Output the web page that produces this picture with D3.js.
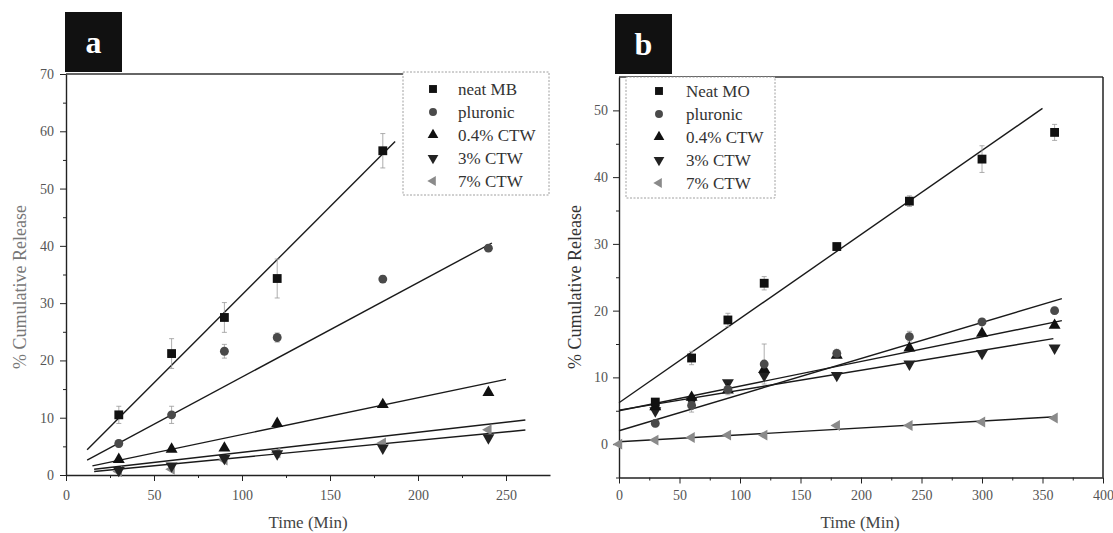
<!DOCTYPE html>
<html lang="en">
<head>
<meta charset="UTF-8">
<title>cumulative release</title>
<script src="https://cdn.jsdelivr.net/npm/d3@7"></script>
<style>
    body{ margin:0; background:#fff; }
    svg text{ font-family:"Liberation Serif","Times New Roman",serif !important; }
    .tick text{ fill:#555; font-size:14px; }
    .domain, .tick line{ stroke:#222; }
</style>
</head>
<body>
<svg id="chart" width="1113" height="533"></svg>
<script>
// ---- data ----
// panel a
let timesA = [30, 60, 90, 120, 180, 240]
let neatA   = [10.5, 21.2, 27.5, 34.3, 56.6, null]
let pluA    = [5.5, 10.5, 21.6, 24.0, 34.2, 39.6]
let ctw04A  = [2.7, 4.5, 4.7, 9.0, 12.3, 14.4]
let ctw3A   = [0.8, 1.6, 2.9, 3.7, 4.7, 6.5]
let ctw7A   = [0.6, 1.0, 2.6, 3.9, 5.6, 7.9]
let errNeatA = [1.5, 2.6, 2.6, 3.4, 3.0, 0]
let errPluA  = [0.6, 1.5, 1.2, 0.8, 0.6, 0.6]
// fit lines [x0, y0, x1, y1]
let fitsA = [[12, 4.4, 187, 58.2], [12, 2.6, 242, 40.5], [15, 1.6, 250, 16.7],
             [16, 0.6, 261, 7.85], [16, 1.0, 261, 9.6]]
let legendA = ["neat MB", "pluronic", "0.4% CTW", "3% CTW", "7% CTW"]
let xTicksA = [0, 50, 100, 150, 200, 250]
let yTicksA = [0, 10, 20, 30, 40, 50, 60, 70]

// panel b
let timesB = [0, 30, 60, 90, 120, 180, 240, 300, 360]
let neatB   = [null, 6.3, 12.9, 18.6, 24.1, 29.6, 36.4, 42.7, 46.7]
let pluB    = [null, 3.1, 5.8, 8.2, 12.0, 13.6, 16.1, 18.3, 20.0]
let ctw04B  = [null, 5.6, 7.0, 8.1, 11.2, 13.3, 14.4, 16.6, 17.8]
let ctw3B   = [null, 5.0, 6.5, 9.2, 10.3, 10.3, 12.0, 13.6, 14.4]
let ctw7B   = [0.0, 0.6, 1.0, 1.35, 1.35, 2.8, 2.8, 3.3, 3.9]
let errNeatB = [0, 0.5, 1.0, 1.0, 1.0, 0.5, 0.8, 2.0, 1.2]
let errPluB  = [0, 0.5, 1.0, 0.8, 3.0, 0.6, 0.8, 0.5, 0.5]
let fitsB = [[0, 6.2, 350, 50.3], [0, 2.0, 366, 21.8], [0, 5.0, 366, 18.5],
             [0, 5.1, 359, 15.8], [0, 0.35, 361, 4.1]]
let legendB = ["Neat MO", "pluronic", "0.4% CTW", "3% CTW", "7% CTW"]
let xTicksB = [0, 50, 100, 150, 200, 250, 300, 350, 400]
let yTicksB = [0, 10, 20, 30, 40, 50]

// ---- marker styles ----
let symbols = [d3.symbolSquare, d3.symbolCircle, d3.symbolTriangle, d3.symbolTriangle, d3.symbolTriangle]
let rotations = [0, 0, 0, 180, -90]
let sizes = [78, 62, 62, 62, 52]
let fills = ["#111", "#4a4a4a", "#111", "#222", "#8a8a8a"]

let svg = d3.select("#chart")

function drawPanel(p){
    let g = svg.append("g")
    let x = d3.scaleLinear().domain(p.xDomain).range(p.xRange)
    let y = d3.scaleLinear().domain(p.yDomain).range(p.yRange)
    let y0 = p.yRange[0], y1 = p.yRange[1]

    // frame lines
    g.append("line").attr("x1", p.xRange[0]).attr("x2", p.topEnd)
        .attr("y1", y1).attr("y2", y1).attr("stroke", "#333").attr("stroke-width", 1.3)
    if (p.rightLine){
        g.append("line").attr("x1", p.xRange[1]).attr("x2", p.xRange[1])
            .attr("y1", y1).attr("y2", y0).attr("stroke", "#222").attr("stroke-width", 1.5)
    }

    // axes
    g.append("g").attr("transform", `translate(0,${y0})`)
        .call(d3.axisBottom(x).tickValues(p.xTicks).tickSize(6).tickSizeOuter(0).tickPadding(p.xPad))
        .call(a => a.select(".domain").attr("stroke-width", 1.4))
    g.append("g").attr("transform", `translate(0,${y0})`)
        .call(d3.axisBottom(x).tickValues(p.xTicks.slice(0, -1).map(v => v + p.xMinor)).tickSize(3).tickFormat(""))
        .call(a => a.select(".domain").remove())
    g.append("g").attr("transform", `translate(${p.xRange[0]},0)`)
        .call(d3.axisLeft(y).tickValues(p.yTicks).tickSize(6).tickSizeOuter(0).tickPadding(p.yPad))
        .call(a => a.select(".domain").attr("stroke-width", 1.4))
    g.append("g").attr("transform", `translate(${p.xRange[0]},0)`)
        .call(d3.axisLeft(y).tickValues(p.yMinor).tickSize(3).tickFormat(""))
        .call(a => a.select(".domain").remove())

    // fit lines
    g.selectAll(".fit").data(p.fits).enter().append("line")
        .attr("x1", d => x(d[0])).attr("y1", d => y(d[1]))
        .attr("x2", d => x(d[2])).attr("y2", d => y(d[3]))
        .attr("stroke", "#1a1a1a").attr("stroke-width", 1.4)

    // error bars
    p.errs.forEach(function(e){
        let pts = p.times.map((t, i) => ({t: t, v: e.values[i], err: e.err[i]}))
            .filter(d => d.v !== null && d.err > 0)
        let eb = g.append("g").attr("stroke", "#999").attr("stroke-width", 0.8)
        eb.selectAll("line.v").data(pts).enter().append("line")
            .attr("x1", d => x(d.t)).attr("x2", d => x(d.t))
            .attr("y1", d => y(d.v - d.err)).attr("y2", d => y(d.v + d.err))
        eb.selectAll("line.c1").data(pts).enter().append("line")
            .attr("x1", d => x(d.t) - 2.5).attr("x2", d => x(d.t) + 2.5)
            .attr("y1", d => y(d.v + d.err)).attr("y2", d => y(d.v + d.err))
        eb.selectAll("line.c2").data(pts).enter().append("line")
            .attr("x1", d => x(d.t) - 2.5).attr("x2", d => x(d.t) + 2.5)
            .attr("y1", d => y(d.v - d.err)).attr("y2", d => y(d.v - d.err))
    })

    // markers (draw 7% first so the dark ones sit on top)
    d3.range(p.series.length).reverse().forEach(function(k){
        let pts = p.times.map((t, i) => ({t: t, v: p.series[k][i]})).filter(d => d.v !== null)
        g.selectAll(null).data(pts).enter().append("path")
            .attr("d", d3.symbol().type(symbols[k]).size(sizes[k]))
            .attr("transform", d => `translate(${x(d.t)},${y(d.v)}) rotate(${rotations[k]})`)
            .attr("fill", fills[k])
    })

    // legend
    let lg = g.append("g")
    lg.append("rect").attr("x", p.legendBox[0]).attr("y", p.legendBox[1])
        .attr("width", p.legendBox[2]).attr("height", p.legendBox[3])
        .attr("fill", "#fff").attr("stroke", "#888").attr("stroke-width", 0.8)
        .attr("stroke-dasharray", "2,1.5")
    p.legend.forEach(function(name, k){
        let cy = p.legendY + k * 23
        lg.append("path")
            .attr("d", d3.symbol().type(symbols[k]).size(sizes[k] * 0.8))
            .attr("transform", `translate(${p.legendSymX},${cy}) rotate(${rotations[k]})`)
            .attr("fill", fills[k])
        lg.append("text").attr("x", p.legendTextX).attr("y", cy + 5.5)
            .attr("font-size", 17).attr("fill", "#333").text(name)
    })

    // axis titles
    g.append("text").attr("x", p.xTitleX).attr("y", 528).attr("text-anchor", "middle")
        .attr("font-size", 17).attr("fill", "#444").text("Time (Min)")
    g.append("text").attr("transform", `translate(${p.yTitleX},287) rotate(-90)`)
        .attr("text-anchor", "middle").attr("font-size", 18).attr("fill", p.yTitleColor)
        .text("% Cumulative Release")

    // panel letter
    g.append("rect").attr("x", p.letterBox[0]).attr("y", p.letterBox[1])
        .attr("width", 57).attr("height", 60).attr("fill", "#111")
    g.append("text").attr("x", p.letterBox[0] + 28.5).attr("y", p.letterBox[1] + 41)
        .attr("text-anchor", "middle").attr("font-size", 32).attr("font-weight", "bold")
        .attr("fill", "#fff").text(p.letter)
}

drawPanel({
    xDomain: [0, 275], xRange: [66, 550], yDomain: [0, 70], yRange: [475, 74],
    topEnd: 403, rightLine: false,
    xTicks: xTicksA, xMinor: 25, xPad: 9,
    yTicks: yTicksA, yMinor: [5, 15, 25, 35, 45, 55, 65], yPad: 6,
    times: timesA, series: [neatA, pluA, ctw04A, ctw3A, ctw7A], fits: fitsA,
    errs: [{values: neatA, err: errNeatA}, {values: pluA, err: errPluA}],
    legend: legendA, legendBox: [403, 72, 146, 123], legendY: 89, legendSymX: 433, legendTextX: 458,
    xTitleX: 308, yTitleX: 26, yTitleColor: "#777",
    letterBox: [65, 12], letter: "a"
})

drawPanel({
    xDomain: [0, 400], xRange: [619, 1103], yDomain: [-5, 55], yRange: [477.5, 77],
    topEnd: 1103, rightLine: true,
    xTicks: xTicksB, xMinor: 25, xPad: 7,
    yTicks: yTicksB, yMinor: [-5, 5, 15, 25, 35, 45], yPad: 5,
    times: timesB, series: [neatB, pluB, ctw04B, ctw3B, ctw7B], fits: fitsB,
    errs: [{values: neatB, err: errNeatB}, {values: pluB, err: errPluB}],
    legend: legendB, legendBox: [626, 77, 149, 121], legendY: 91, legendSymX: 659, legendTextX: 686,
    xTitleX: 860, yTitleX: 581, yTitleColor: "#333",
    letterBox: [615, 14], letter: "b"
})
</script>
</body>
</html>
